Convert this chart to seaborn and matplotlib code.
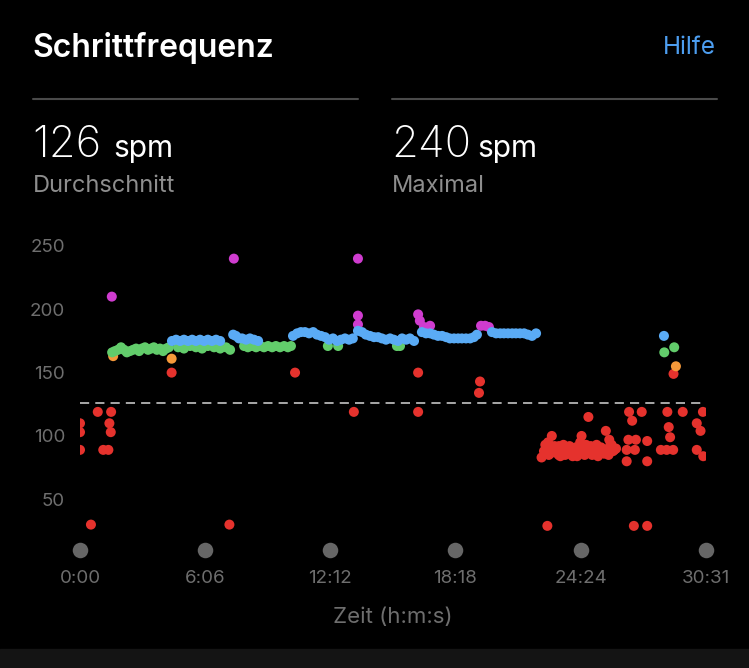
import numpy as np
import pandas as pd
import matplotlib
matplotlib.use("Agg")
import matplotlib.pyplot as plt
import seaborn as sns
from matplotlib.patches import Rectangle
from matplotlib.lines import Line2D

# ---------------- data ----------------
time_s = [
    0, 0, 0, 32, 52, 68, 83, 86, 90, 91,
    93, 97,
    94, 102, 111, 120, 129, 137, 146, 155, 164, 173, 181, 190, 199, 208, 216, 225, 234, 243, 252, 260,
    268, 268,
    287, 304, 322, 339, 357, 374, 392, 410, 427, 439,
    269, 281, 293, 304, 316, 328, 339, 351, 363, 374, 386, 398, 410,
    437,
    448, 456, 465,
    450,
    480, 491, 503, 515, 527, 538, 550, 562, 573, 585, 597, 608, 617,
    474, 486, 497, 509, 521,
    725, 755,
    623, 635, 646, 658, 670, 682, 693, 705, 717, 728, 740, 752, 763, 775, 787, 798,
    629, 801,
    813, 813, 813,
    927, 936,
    813, 825, 836, 848, 860, 872, 883, 895, 907, 918, 930, 942, 954, 965, 977,
    989, 989,
    989, 994, 1006, 1024,
    1000, 1012, 1024, 1035, 1047, 1059, 1071, 1082, 1094, 1106, 1117, 1129, 1141, 1152, 1161,
    1173, 1185, 1196,
    1170, 1167,
    1205, 1217, 1229, 1240, 1252, 1264, 1275, 1287, 1299, 1310, 1322, 1334,
    1350, 1357, 1366, 1369, 1375, 1380, 1383, 1392, 1400, 1401, 1410, 1419, 1427, 1436, 1445,
    1454, 1454, 1463, 1463, 1467, 1471, 1480, 1487, 1489, 1498, 1506, 1515, 1515, 1524, 1533,
    1538, 1542, 1548, 1550, 1559, 1563, 1568,
    1361, 1371, 1388, 1396, 1405, 1414, 1423, 1432, 1441, 1450, 1458, 1476, 1485, 1494, 1502,
    1511, 1520, 1529, 1546, 1555,
    1367, 1620, 1659,
    1599, 1599, 1604, 1606, 1615, 1623, 1626, 1643, 1659, 1659,
    1699, 1716, 1718, 1722, 1726, 1735, 1763, 1804, 1804, 1815, 1822, 1823,
    1736, 1708, 1709, 1738, 1743,
]
cadence_spm = [
    110, 103, 89, 30, 119, 89, 89, 110, 103, 119,
    210, 163,
    166, 167, 168, 170, 168, 166, 167, 168, 169, 167, 169, 170, 168, 169, 170, 168, 169, 167, 169, 170,
    161, 150,
    170, 169, 171, 170, 169, 171, 170, 169, 170, 168,
    175, 176, 175, 176, 175, 176, 175, 176, 175, 176, 175, 176, 175,
    30,
    180, 179, 177,
    240,
    171, 170, 171, 170, 171, 170, 171, 170, 171, 170, 171, 170, 171,
    177, 176, 177, 176, 175,
    171, 171,
    179, 181, 182, 182, 181, 182, 180, 179, 178, 176, 177, 175, 176, 177, 176, 177,
    150, 119,
    240, 195, 188,
    171, 171,
    183, 182, 180, 179, 178, 178, 177, 176, 177, 176, 175, 177, 176, 177, 175,
    150, 119,
    196, 191, 186, 187,
    182, 181, 181, 180, 179, 179, 178, 177, 177, 177, 177, 177, 177, 178, 180,
    187, 187, 186,
    143, 134,
    182, 181, 181, 181, 181, 181, 181, 181, 181, 180, 179, 181,
    83, 88, 91, 95, 86, 100, 90, 87, 85, 92, 88, 85, 90, 87, 89,
    86, 84, 91, 95, 100, 88, 93, 115, 87, 85, 90, 88, 84, 91, 86,
    104, 89, 97, 92, 88, 89, 90,
    93, 85, 92, 89, 84, 93, 86, 92, 84, 91, 89, 85, 89, 92, 86,
    93, 86, 89, 85, 93,
    29, 29, 29,
    89, 80, 97, 119, 112, 89, 97, 119, 96, 80,
    89, 89, 119, 107, 99, 89, 119, 110, 89, 104, 119, 84,
    149, 179, 166, 170, 155,
]

zone_edges = [0, 152, 164, 174, 184, 400]
zone_names = ["rot", "orange", "grün", "blau", "lila"]
zone_colors = {"rot": "#e5322d", "orange": "#f5993a", "grün": "#62cc6b",
               "blau": "#5aabf5", "lila": "#cf3ccf"}

x_tick_secs = [0, 366, 732, 1098, 1464, 1831]
x_tick_labels = ["0:00", "6:06", "12:12", "18:18", "24:24", "30:31"]
y_ticks = [50, 100, 150, 200, 250]

avg_spm = 126
max_spm = 240
title = "Schrittfrequenz"
help_text = "Hilfe"
avg_label = "Durchschnitt"
max_label = "Maximal"
unit = "spm"
x_label = "Zeit (h:m:s)"

# ---------------- style ----------------
sns.set_theme(style="dark")
plt.rcParams["font.family"] = ["Inter", "DejaVu Sans"]
plt.rcParams["figure.facecolor"] = "black"
plt.rcParams["axes.facecolor"] = "black"

W, H = 749, 668
fig = plt.figure(figsize=(W / 100, H / 100), dpi=100, facecolor="black")

def fx(px):
    return px / W

def fy(py):
    return 1 - py / H

ax = fig.add_axes([fx(80), fy(562.6), (706 - 80) / W, (562.6 - 233.3) / H])
ax.set_facecolor("black")

df = pd.DataFrame({"t": time_s, "spm": cadence_spm})
df["zone"] = pd.cut(df["spm"], bins=zone_edges, labels=zone_names, right=False)

sns.scatterplot(data=df, x="t", y="spm", hue="zone", hue_order=zone_names,
                palette=zone_colors, s=52, linewidth=0, legend=False, ax=ax, zorder=3)

ax.axhline(avg_spm, color="#d6d6d6", lw=1.1, ls=(0, (6, 4)), zorder=2)

# grey tick markers under the x ticks
ax.scatter(x_tick_secs, [9.6] * len(x_tick_secs), s=125, color="#666666",
           clip_on=False, zorder=3, linewidths=0)

ax.set_xlim(0, 1831)
ax.set_ylim(0, 260)
ax.set_xticks(x_tick_secs, x_tick_labels)
ax.set_yticks(y_ticks)
ax.tick_params(axis="both", length=0, labelcolor="#6e6e6e", labelsize=13.5)
ax.tick_params(axis="y", pad=10.8)
ax.tick_params(axis="x", pad=5)
ax.grid(False)
for s in ax.spines.values():
    s.set_visible(False)
ax.set_ylabel("")
ax.set_xlabel(x_label, fontsize=16, color="#6e6e6e")
ax.xaxis.set_label_coords(0.5, (562.6 - 616.7) / (562.6 - 233.3))
ax.xaxis.label.set_va("center")

# ---------------- header ----------------
fig.text(fx(32.5), fy(56.7), title, fontsize=23, fontweight="semibold",
         color="white", va="baseline")
fig.text(fx(716), fy(54.3), help_text, fontsize=17.5, color="#4d9ef0",
         ha="right", va="baseline")
for x0, x1 in [(32.5, 358), (391.6, 717)]:
    fig.add_artist(Line2D([fx(x0), fx(x1)], [fy(99), fy(99)], color="#4a4a4a", lw=1.5))

fig.text(fx(32.5), fy(156.7), f"{avg_spm}", fontsize=31.5, fontweight="light",
         color="white", va="baseline")
fig.text(fx(113), fy(156.7), unit, fontsize=21.5, fontweight="normal",
         color="white", va="baseline")
fig.text(fx(32.5), fy(191.7), avg_label, fontsize=17, color="#8e8e8e", va="baseline")

fig.text(fx(391.6), fy(156.7), f"{max_spm}", fontsize=31.5, fontweight="light",
         color="white", va="baseline")
fig.text(fx(477.6), fy(156.7), unit, fontsize=21.5, fontweight="normal",
         color="white", va="baseline")
fig.text(fx(391.6), fy(191.7), max_label, fontsize=17, color="#8e8e8e", va="baseline")

# bottom strip
fig.add_artist(Rectangle((0, 0), 1, (H - 649.3) / H, transform=fig.transFigure,
                         color="#141414", zorder=0))

fig.savefig("out.png", dpi=100, facecolor="black")
